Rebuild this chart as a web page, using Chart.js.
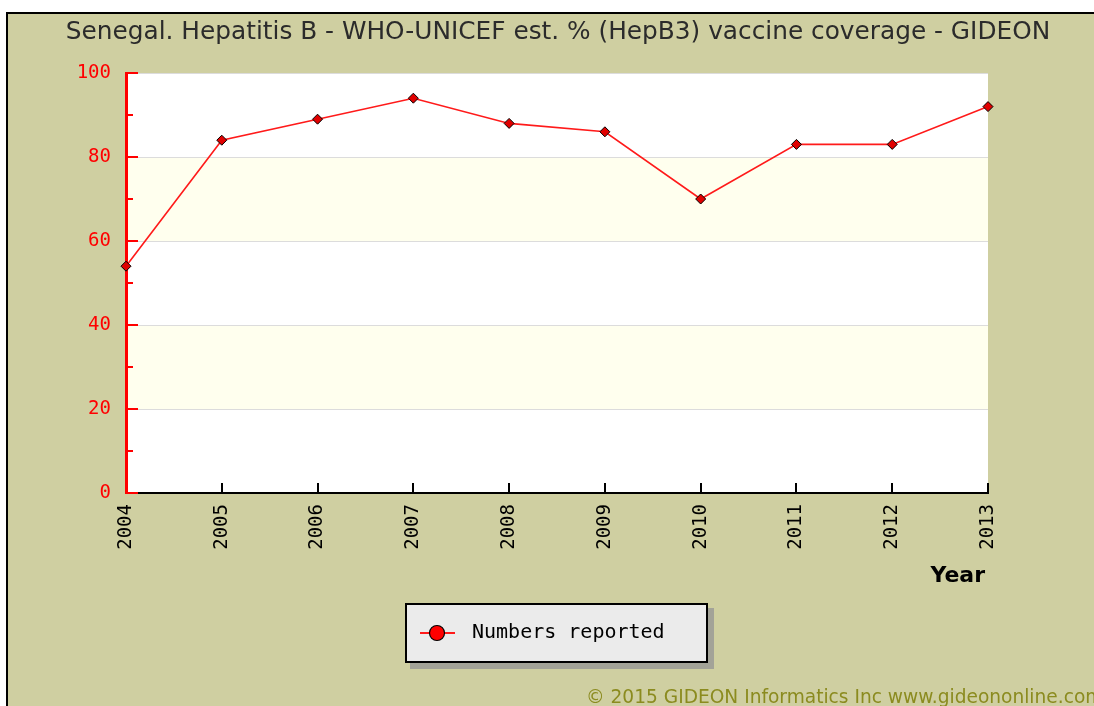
<!DOCTYPE html>
<html><head><meta charset="utf-8">
<script src="https://cdn.jsdelivr.net/npm/chart.js@4"></script>
<style>html,body{margin:0;padding:0;background:#fff;overflow:hidden}#wrap{width:1094px;height:706px;position:relative}</style>
</head><body><div id="wrap"><canvas id="c" width="1094" height="706"></canvas></div>
<script>
const years = ['2004','2005','2006','2007','2008','2009','2010','2011','2012','2013'];
const coverage = [54, 84, 89, 94, 88, 86, 70, 83, 83, 92];
const yMajorTicks = [0, 20, 40, 60, 80, 100];
const yMinorTicks = [10, 30, 50, 70, 90];
const bands = [[20, 40], [60, 80]];
const titleText = 'Senegal. Hepatitis B - WHO-UNICEF est. % (HepB3) vaccine coverage - GIDEON';
const seriesLabel = 'Numbers reported';
const xAxisTitle = 'Year';
const copyrightText = '\u00A9 2015 GIDEON Informatics Inc www.gideononline.com';

const KHAKI = '#cfcfa1';
const MONO = '"DejaVu Sans Mono", monospace';

const decor = {
  id: 'decor',
  beforeDraw(chart) {
    const ctx = chart.ctx, a = chart.chartArea, y = chart.scales.y;
    ctx.save();
    ctx.fillStyle = '#fff';
    ctx.fillRect(0, 0, chart.width, chart.height);
    ctx.fillStyle = KHAKI;
    ctx.fillRect(6, 12, chart.width - 6, chart.height - 12);
    ctx.fillStyle = '#000';
    ctx.fillRect(6, 12, chart.width - 6, 2);
    ctx.fillRect(6, 12, 2, chart.height - 12);
    ctx.fillStyle = '#fff';
    ctx.fillRect(a.left, a.top, a.right - a.left, a.bottom - a.top);
    ctx.fillStyle = '#ffffee';
    bands.forEach(([lo, hi]) => {
      const p1 = y.getPixelForValue(hi), p2 = y.getPixelForValue(lo);
      ctx.fillRect(a.left, p1, a.right - a.left, p2 - p1);
    });
    // title
    ctx.fillStyle = '#2b2b2b';
    ctx.font = '24.8px "DejaVu Sans", sans-serif';
    ctx.textAlign = 'center';
    ctx.textBaseline = 'alphabetic';
    ctx.fillText(titleText, 558, 39);
    ctx.restore();
  },
  afterDraw(chart) {
    const ctx = chart.ctx, a = chart.chartArea, y = chart.scales.y, x = chart.scales.x;
    ctx.save();
    // y ticks inside
    ctx.fillStyle = '#ff0000';
    yMajorTicks.forEach(v => { const p = Math.round(y.getPixelForValue(v)); ctx.fillRect(a.left, p - 1, 12, 2); });
    yMinorTicks.forEach(v => { const p = Math.round(y.getPixelForValue(v)); ctx.fillRect(a.left, p - 1, 7, 2); });
    // x ticks inside
    ctx.fillStyle = '#000';
    years.forEach((_, i) => { if (i === 0) return; const p = Math.round(x.getPixelForValue(i)); ctx.fillRect(p - 1, a.bottom - 10, 2, 10); });
    // axis title
    ctx.font = 'bold 22px "DejaVu Sans", sans-serif';
    ctx.textAlign = 'right';
    ctx.textBaseline = 'alphabetic';
    ctx.fillStyle = '#000';
    ctx.fillText(xAxisTitle, 985, 582);
    // legend
    const ds = chart.data.datasets[0];
    ctx.fillStyle = '#a3a398';
    ctx.fillRect(410, 608, 304, 61);
    ctx.fillStyle = '#ebebeb';
    ctx.fillRect(405, 603, 303, 60);
    ctx.strokeStyle = '#000';
    ctx.lineWidth = 2;
    ctx.strokeRect(406, 604, 301, 58);
    ctx.strokeStyle = ds.borderColor;
    ctx.lineWidth = 2;
    ctx.beginPath(); ctx.moveTo(420, 633); ctx.lineTo(455, 633); ctx.stroke();
    ctx.beginPath(); ctx.arc(437, 633, 7.5, 0, Math.PI * 2);
    ctx.fillStyle = '#ff0000'; ctx.fill();
    ctx.strokeStyle = '#000'; ctx.lineWidth = 1.2; ctx.stroke();
    ctx.fillStyle = '#000';
    ctx.font = '20px ' + MONO;
    ctx.textAlign = 'left';
    ctx.textBaseline = 'middle';
    ctx.fillText(ds.label, 472, 633);
    // copyright
    ctx.fillStyle = '#8b8b1f';
    ctx.font = '18.6px "DejaVu Sans", sans-serif';
    ctx.textBaseline = 'alphabetic';
    ctx.fillText(copyrightText, 586, 703);
    ctx.restore();
  }
};

new Chart(document.getElementById('c'), {
  type: 'line',
  data: {
    labels: years,
    datasets: [{
      label: seriesLabel,
      data: coverage,
      borderColor: '#ff1a1a',
      borderWidth: 1.6,
      tension: 0,
      fill: false,
      pointStyle: 'rectRot',
      pointRadius: 5,
      pointBackgroundColor: '#e00000',
      pointBorderColor: '#000',
      pointBorderWidth: 1,
      clip: false
    }]
  },
  options: {
    responsive: false,
    animation: false,
    events: [],
    layout: { padding: { left: 0, right: 106, top: 73, bottom: 0 } },
    plugins: { legend: { display: false }, title: { display: false }, tooltip: { enabled: false } },
    scales: {
      x: {
        type: 'category',
        offset: false,
        grid: { display: false, drawTicks: false },
        border: { display: true, color: '#000', width: 2 },
        ticks: { color: '#000', font: { family: MONO, size: 19 }, maxRotation: 90, minRotation: 90, padding: 11, autoSkip: false },
        afterFit(s) { s.height = 706 - 73 - 420; }
      },
      y: {
        min: 0, max: 100,
        grid: { drawTicks: false, color: '#dcdcdc', lineWidth: 1 },
        border: { display: true, color: '#ff0000', width: 3 },
        ticks: { stepSize: 20, color: '#ff0000', font: { family: MONO, size: 19 }, padding: 15 },
        afterFit(s) { s.width = 126; }
      }
    }
  },
  plugins: [decor]
});
</script>
</body></html>
